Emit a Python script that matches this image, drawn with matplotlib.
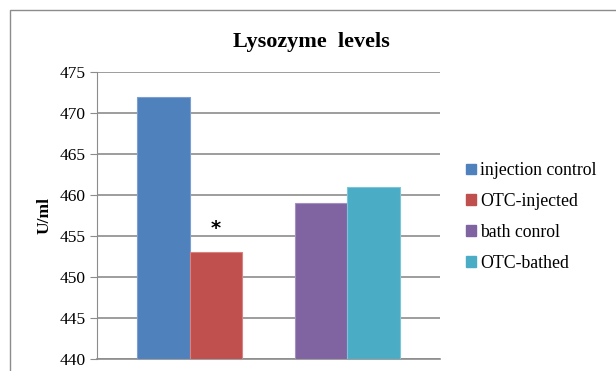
import matplotlib
matplotlib.use("Agg")
import matplotlib.pyplot as plt
from matplotlib.patches import Rectangle, Patch

groups = ["injection control", "OTC-injected", "bath conrol", "OTC-bathed"]
values = [472, 453, 459, 461]
colors = ["#4F81BD", "#C0504D", "#8064A2", "#4BACC6"]
edge_colors = ["#7D9FD0", "#D98280", "#A38FC0", "#7CC4D8"]
positions = [0, 1, 3, 4]
y_ticks = [440, 445, 450, 455, 460, 465, 470, 475]
star_value = 455.9

plt.rcParams["font.family"] = ["Liberation Serif", "DejaVu Serif"]

fig = plt.figure(figsize=(6.16, 3.71), dpi=100)
fig.patches.append(Rectangle((10 / 616, -0.1), 1.2, (371 - 10) / 371 + 0.1,
                             transform=fig.transFigure, fill=False,
                             edgecolor="#8c8c8c", linewidth=1.0))

ax = fig.add_axes([97 / 616, 12 / 371, 343 / 616, 287 / 371])
ax.bar(positions, [v - 440 for v in values], bottom=440, width=1.0,
       color=colors, edgecolor=edge_colors, linewidth=0.8, zorder=3)

ax.set_ylim(440, 475)
ax.set_xlim(-1.27, 5.27)
ax.set_yticks(y_ticks)
ax.tick_params(axis="y", labelsize=12.5, length=5, color="#8c8c8c", pad=3)
ax.tick_params(axis="x", bottom=False, labelbottom=False)
ax.grid(axis="y", color="#8c8c8c", linewidth=1.2, zorder=0)
for side in ("top", "right"):
    ax.spines[side].set_visible(False)
ax.spines["left"].set_color("#8c8c8c")
ax.spines["bottom"].set_color("#8c8c8c")
ax.spines["bottom"].set_linewidth(1.2)

ax.text(1, star_value, "*", ha="center", va="center", fontsize=14,
        fontweight="bold", family="DejaVu Sans")

ax.set_ylabel("U/ml", fontsize=12.5, fontweight="bold", labelpad=5)
fig.text(0.505, 0.887, "Lysozyme  levels", ha="center", va="center",
         fontsize=16, fontweight="bold")

handles = [Patch(facecolor=c, edgecolor=c) for c in colors]
fig.legend(handles, groups, loc="center left",
           bbox_to_anchor=(450 / 616, 0.415), frameon=False,
           fontsize=12.8, handlelength=0.55, handleheight=0.55,
           handletextpad=0.25, labelspacing=0.78)

fig.savefig("out.png", dpi=100)
